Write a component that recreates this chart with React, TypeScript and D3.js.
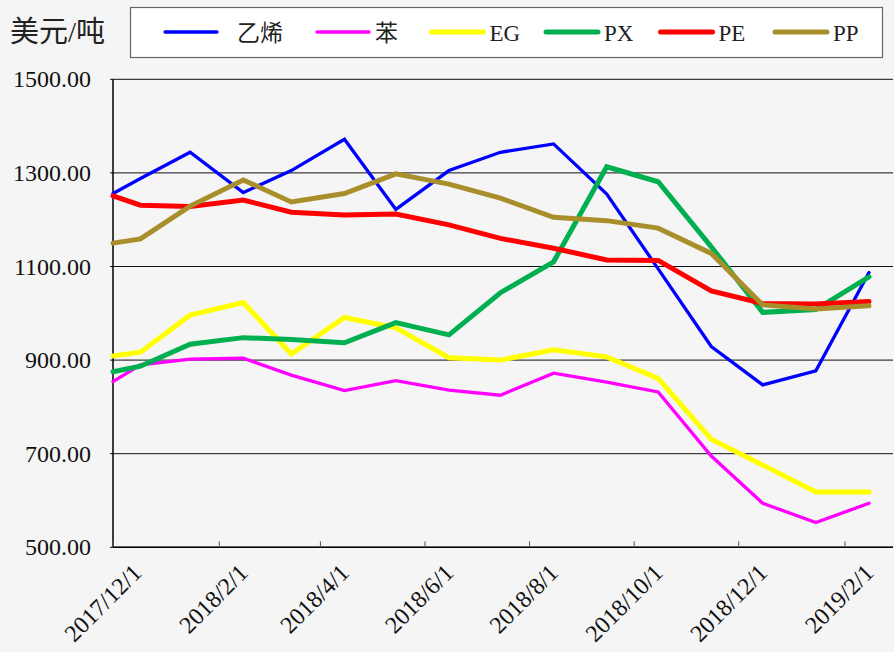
import * as d3 from "d3";

// dates of the data points (UTC)
const dates = [
  "2017-12-01", "2017-12-17", "2018-01-15", "2018-02-15", "2018-03-15", "2018-04-15",
  "2018-05-15", "2018-06-15", "2018-07-15", "2018-08-15", "2018-09-15", "2018-10-15",
  "2018-11-15", "2018-12-15", "2019-01-15", "2019-02-15",
];

const ethylene = [1256, 1288, 1344, 1258, 1305, 1372, 1222, 1305, 1344, 1362, 1255, 1095, 929, 847, 877, 1087];
const benzene = [854, 890, 902, 904, 868, 835, 856, 836, 825, 872, 853, 832, 695, 594, 553, 594];
const eg = [909, 917, 996, 1023, 913, 991, 969, 905, 900, 922, 907, 861, 731, 676, 618, 618];
const px = [875, 887, 934, 948, 944, 937, 980, 954, 1044, 1110, 1313, 1281, 1142, 1002, 1008, 1078];
const pe = [1251, 1231, 1228, 1242, 1216, 1210, 1212, 1189, 1160, 1139, 1114, 1113, 1048, 1021, 1020, 1025];
const pp = [1150, 1159, 1229, 1285, 1238, 1256, 1298, 1276, 1246, 1205, 1198, 1182, 1128, 1018, 1009, 1016];

const seriesNames = ["乙烯", "苯", "EG", "PX", "PE", "PP"];
const seriesValues = [ethylene, benzene, eg, px, pe, pp];
const seriesColors = ["#0000ff", "#ff00ff", "#ffff00", "#00b050", "#ff0000", "#a98f2c"];
const seriesWidths = [3.3, 3.3, 5, 5, 5, 5];

const xTickLabels = ["2017/12/1", "2018/2/1", "2018/4/1", "2018/6/1", "2018/8/1", "2018/10/1", "2018/12/1", "2019/2/1"];
const yTicks = [500, 700, 900, 1100, 1300, 1500];

const W = 894;
const H = 652;
const serif = '"Liberation Serif", "Times New Roman", "Noto Sans CJK SC", serif';

export default function App() {
  const parse = d3.utcParse("%Y-%m-%d");
  const parseTick = d3.utcParse("%Y/%m/%d");
  const pointDates = dates.map((d) => parse(d) as Date);

  const x = d3
    .scaleUtc()
    .domain([parse("2017-12-01") as Date, parse("2019-03-01") as Date])
    .range([113, 893]);
  const y = d3.scaleLinear().domain([500, 1500]).range([547.3, 79.3]);

  const line = d3
    .line<number>()
    .x((d, i) => x(pointDates[i]))
    .y((d) => y(d));

  const fmt = d3.format(".2f");

  // legend layout
  const legendX = (i: number) => (i === 0 ? 165 : 317 + (i - 1) * 114.5);
  const legendTextDx = (i: number) => (i === 0 ? 72 : 58);

  return (
    <svg
      width={W}
      height={H}
      viewBox={`0 0 ${W} ${H}`}
      style={{ position: "fixed", left: 0, top: 0, display: "block" }}
    >
      <rect width={W} height={H} fill="#f5f5f5" />

      {/* unit */}
      <text x={10} y={42} fontSize={29} fontFamily={serif} fill="#222">
        美元/吨
      </text>

      {/* legend */}
      <rect x={130.5} y={7.5} width={752} height={50} fill="#ffffff" stroke="#666" strokeWidth={1.2} />
      {seriesNames.map((name, i) => (
        <g key={name}>
          <line
            x1={legendX(i)}
            x2={legendX(i) + 52}
            y1={32}
            y2={32}
            stroke={seriesColors[i]}
            strokeWidth={seriesWidths[i]}
            strokeLinecap="round"
          />
          <text x={legendX(i) + legendTextDx(i)} y={40.5} fontSize={23} fontFamily={serif} fill="#222">
            {name}
          </text>
        </g>
      ))}

      {/* gridlines + y labels */}
      {yTicks.map((t) => (
        <g key={t}>
          <line x1={110} x2={893} y1={y(t)} y2={y(t)} stroke={t === 500 ? "#000" : "#111"} strokeWidth={1} />
          <text
            x={91}
            y={y(t) + 8}
            textAnchor="end"
            fontSize={24}
            fontFamily={serif}
            fill="#111"
          >
            {fmt(t)}
          </text>
        </g>
      ))}

      {/* axes */}
      <line x1={113} x2={113} y1={y(1500)} y2={y(500)} stroke="#000" strokeWidth={1.5} />
      <line x1={113} x2={893} y1={y(500)} y2={y(500)} stroke="#000" strokeWidth={1.5} />

      {/* x ticks + labels */}
      {xTickLabels.map((lab) => {
        const tx = x(parseTick(lab) as Date);
        return (
          <g key={lab}>
            <line x1={tx} x2={tx} y1={y(500)} y2={y(500) - 6} stroke="#555" strokeWidth={1} />
            <text
              transform={`translate(${tx + 30},${y(500) + 27}) rotate(-45)`}
              textAnchor="end"
              fontSize={24}
              fontFamily={serif}
              fill="#111"
            >
              {lab}
            </text>
          </g>
        );
      })}

      {/* series */}
      {seriesValues.map((vals, i) => (
        <path
          key={seriesNames[i]}
          d={line(vals) ?? ""}
          fill="none"
          stroke={seriesColors[i]}
          strokeWidth={seriesWidths[i]}
          strokeLinejoin="miter"
          strokeLinecap="round"
        />
      ))}
    </svg>
  );
}
